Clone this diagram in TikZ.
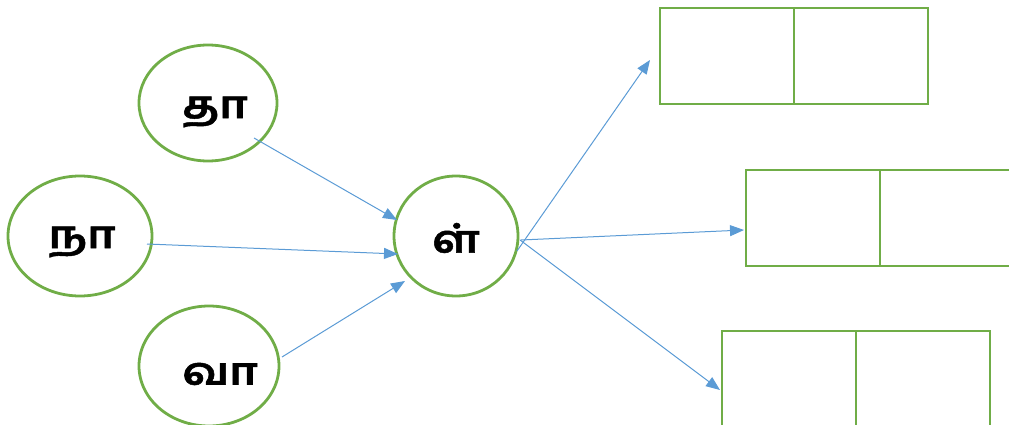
\documentclass[tikz,border=0pt]{standalone}
\usepackage{fontspec}
\newfontfamily\tamil[Script=Tamil,BoldFeatures={FakeBold=1.2}]{Hind Madurai}
\usetikzlibrary{shapes.geometric,arrows.meta}
\definecolor{gr}{RGB}{112,173,71}
\definecolor{bl}{RGB}{91,155,213}
\newcommand{\tw}[1]{\scalebox{1.2}[1]{#1}}
\tikzset{
  circ/.style={ellipse, draw=gr, line width=2.8pt, inner sep=0pt},
  txt/.style={inner sep=0pt, font=\tamil\bfseries\fontsize{38}{42}\selectfont},
  cell/.style={rectangle, draw=gr, line width=2.8pt, minimum width=134pt, minimum height=96pt, anchor=north west, inner sep=0pt, outer sep=0pt},
  arr/.style={draw=bl, line width=1pt, -{Triangle[length=14pt,width=11pt]}}
}
\begin{document}
\begin{tikzpicture}[x=1pt,y=-1pt]
\clip (0,0) rectangle (1009,425);
\node[circ, minimum width=138pt, minimum height=116pt] (ta) at (208,103) {};
\node[circ, minimum width=144pt, minimum height=120pt] (na) at (80,236) {};
\node[circ, minimum width=140pt, minimum height=120pt] (va) at (209,366) {};
\node[circ, minimum width=124pt, minimum height=120pt] (l) at (456,236) {};
\node[txt] (tat) at (215,112) {\tw{தா}};
\node[txt] (nat) at (82,242) {\tw{நா}};
\node[txt] (vat) at (220,374) {\tw{வா}};
\node[txt] (lt) at (456,238) {\tw{ள்}};
\node[cell] (a1) at (660,8) {};
\node[cell] (a2) at (794,8) {};
\node[cell] (b1) at (746,170) {};
\node[cell] (b2) at (880,170) {};
\node[cell] (c1) at (722,331) {};
\node[cell] (c2) at (856,331) {};
\coordinate (s1) at (254,138);
\coordinate (e1) at (397,220);
\coordinate (s2) at (147,244);
\coordinate (e2) at (398,254);
\coordinate (s3) at (282,357);
\coordinate (e3) at (405,281);
\coordinate (s4) at (517,251);
\coordinate (e4) at (650,60);
\coordinate (s5) at (521,240);
\coordinate (e5) at (744,230);
\coordinate (s6) at (520,240);
\coordinate (e6) at (720,390);
\draw[arr] (s1) -- (e1);
\draw[arr] (s2) -- (e2);
\draw[arr] (s3) -- (e3);
\draw[arr] (s4) -- (e4);
\draw[arr] (s5) -- (e5);
\draw[arr] (s6) -- (e6);
\end{tikzpicture}
\end{document}
